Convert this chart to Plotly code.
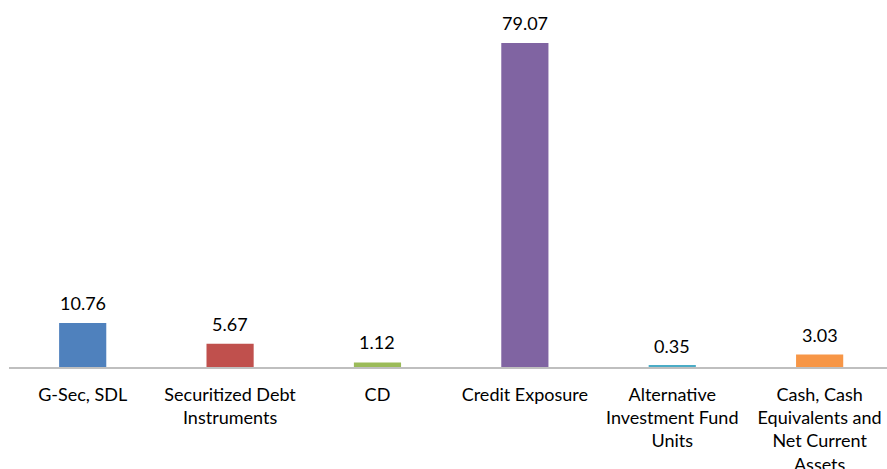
import plotly.graph_objects as go

categories = ["G-Sec, SDL", "Securitized Debt<br>Instruments", "CD", "Credit Exposure",
              "Alternative<br>Investment Fund<br>Units",
              "Cash, Cash<br>Equivalents and<br>Net Current<br>Assets"]
values = [10.76, 5.67, 1.12, 79.07, 0.35, 3.03]
colors = ["#4F81BD", "#C0504D", "#9BBB59", "#8064A2", "#4BACC6", "#F79646"]

FONT = "Lato, Carlito, 'Open Sans', sans-serif"
xs = list(range(len(categories)))

fig = go.Figure(go.Bar(
    x=xs, y=values,
    marker=dict(color=colors, line=dict(width=0)),
    width=0.32, cliponaxis=False, hoverinfo="skip",
))

for x, v in zip(xs, values):
    fig.add_annotation(x=x, y=v, text=f"{v:.2f}", showarrow=False,
                       xanchor="center", yanchor="bottom", yshift=7,
                       font=dict(family=FONT, size=18, color="#000000"))

fig.update_layout(
    width=887, height=469,
    margin=dict(l=9, r=0, t=20, b=102, autoexpand=False),
    paper_bgcolor="white", plot_bgcolor="white",
    showlegend=False,
    font=dict(family=FONT, size=18, color="#000000"),
    xaxis=dict(
        tickmode="array", tickvals=xs, ticktext=categories,
        range=[-0.5, 5.457], showgrid=False, zeroline=False,
        showline=True, linecolor="#BFBFBF", linewidth=2,
        ticks="outside", ticklen=10, tickcolor="rgba(0,0,0,0)",
        tickfont=dict(family=FONT, size=18, color="#000000"),
        tickangle=0, automargin=False,
    ),
    yaxis=dict(range=[0, 84.68], visible=False, showgrid=False, zeroline=False),
)

fig.write_html("out.html")
